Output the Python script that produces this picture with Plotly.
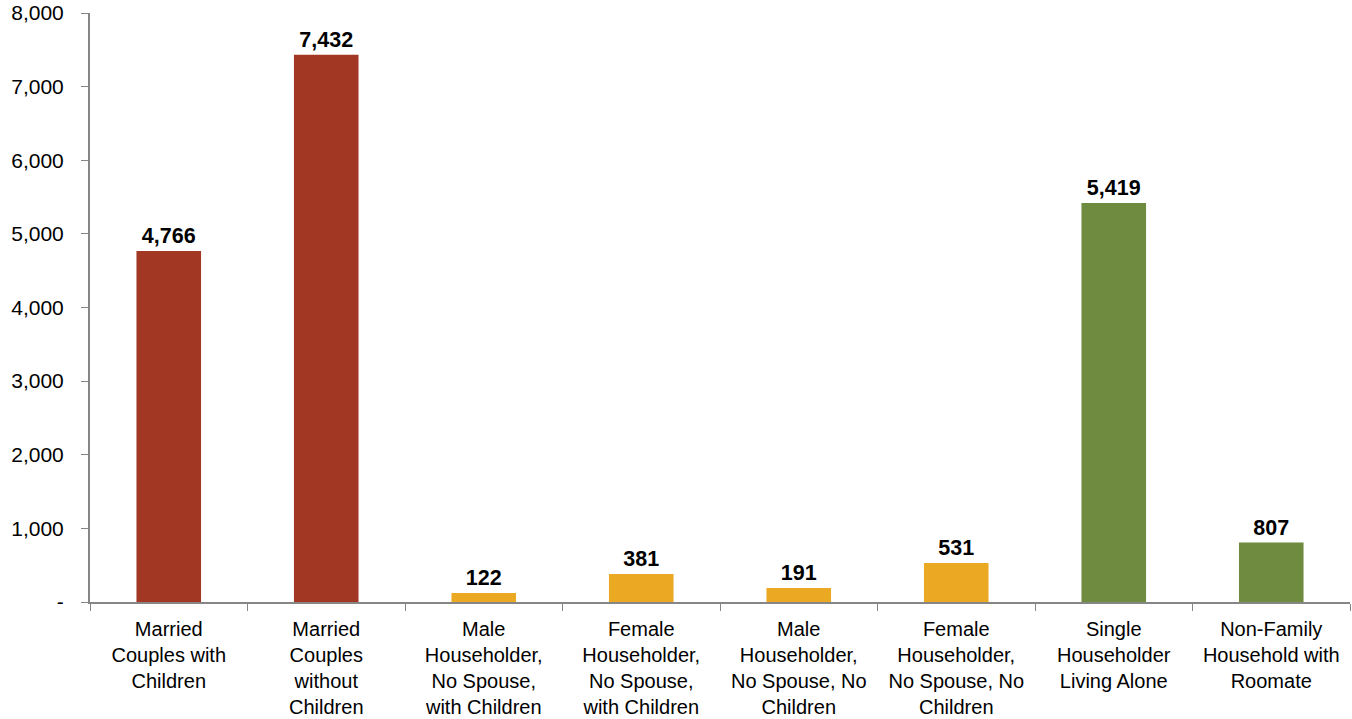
import plotly.graph_objects as go

categories = [
    "Married<br>Couples with<br>Children",
    "Married<br>Couples<br>without<br>Children",
    "Male<br>Householder,<br>No Spouse,<br>with Children",
    "Female<br>Householder,<br>No Spouse,<br>with Children",
    "Male<br>Householder,<br>No Spouse, No<br>Children",
    "Female<br>Householder,<br>No Spouse, No<br>Children",
    "Single<br>Householder<br>Living Alone",
    "Non-Family<br>Household with<br>Roomate",
]
households = [4766, 7432, 122, 381, 191, 531, 5419, 807]
bar_colors = ["#A23823", "#A23823", "#EBA823", "#EBA823",
              "#EBA823", "#EBA823", "#6F8B3F", "#6F8B3F"]
y_ticks = [0, 1000, 2000, 3000, 4000, 5000, 6000, 7000, 8000]
y_tick_text = ["-"] + [f"{v:,}" for v in y_ticks[1:]]

fig = go.Figure()
fig.add_trace(go.Bar(
    x=categories, y=households,
    marker=dict(color=bar_colors, line=dict(width=0)),
    text=[f"<b>{v:,}</b>" for v in households],
    textposition="outside", cliponaxis=False,
    textfont=dict(family="Liberation Sans, Arial", size=21.5, color="black"),
))

fig.update_layout(
    width=1352, height=719,
    margin=dict(l=90, r=2, t=13, b=117, autoexpand=False),
    plot_bgcolor="white", paper_bgcolor="white",
    bargap=0.59, showlegend=False,
    font=dict(family="Liberation Sans, Arial", size=21, color="black"),
)
fig.update_yaxes(
    range=[0, 8000], tickvals=y_ticks, ticktext=y_tick_text,
    showgrid=False, zeroline=False,
    showline=True, linecolor="#868686", linewidth=2,
    ticks="outside", ticklen=7, tickcolor="#868686", tickwidth=1,
    tickfont=dict(size=21), ticklabelstandoff=13,
)
fig.update_xaxes(
    showgrid=False, showline=True, linecolor="#868686", linewidth=2,
    ticks="outside", tickson="boundaries", ticklen=7,
    tickcolor="#868686", tickwidth=1,
    tickfont=dict(size=20), ticklabelstandoff=8,
)

# drop the browser's default page margin so the chart sits at the top-left corner
fig.write_html("out.html", config={"displayModeBar": False},
               post_script="document.body.style.margin='0';")
